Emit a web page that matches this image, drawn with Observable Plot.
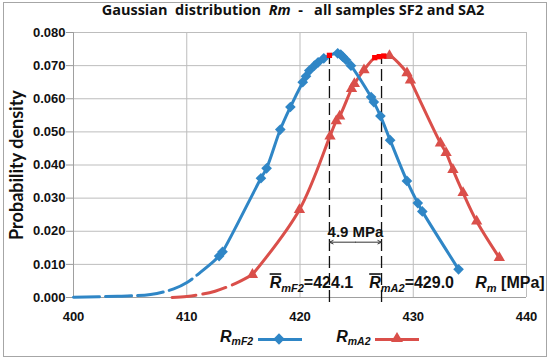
<!DOCTYPE html>
<html><head><meta charset="utf-8">
<script src="https://cdn.jsdelivr.net/npm/d3@7"></script>
<script src="https://cdn.jsdelivr.net/npm/@observablehq/plot@0.6"></script>
<style>
body{margin:0;background:#fff;}
#wrap{position:relative;width:550px;height:362px;overflow:hidden;background:#fff;font-family:"Liberation Sans",Arial,sans-serif;color:#111;}
#frame{position:absolute;left:3px;top:2px;width:542px;height:353px;border:1px solid #a6a6a6;pointer-events:none;}
#title{height:24px;line-height:38px;text-align:center;font:bold 14.5px "Open Sans",sans-serif;padding-left:36px;white-space:pre;}
#legend{height:18px;display:flex;align-items:center;padding-left:220px;line-height:18px;margin-top:0;}
.lt{font-weight:bold;font-style:italic;font-size:16px;}
.lt sub{font-size:10.5px;vertical-align:-3px;}
.ln{display:inline-block;position:relative;width:44px;height:3px;margin-left:5px;}
.dia{position:absolute;left:17px;top:-3px;width:8px;height:8px;transform:rotate(45deg);}
.tri{position:absolute;left:16px;top:-6px;width:0;height:0;border-left:6px solid transparent;border-right:6px solid transparent;border-bottom:10px solid;}
</style></head>
<body>
<div id="wrap">
  <div id="title">Gaussian  distribution  <i>Rm</i>  -   all samples SF2 and SA2</div>
  <div id="chart"></div>
  <div id="legend">
    <span class="lt">R<sub>mF2</sub></span><span class="ln" style="background:#2f86c6"><span class="dia" style="background:#2f86c6"></span></span>
    <span class="lt" style="margin-left:34px">R<sub>mA2</sub></span><span class="ln" style="background:#da4f4a"><span class="tri" style="border-bottom-color:#da4f4a"></span></span>
  </div>
  <div id="frame"></div>
</div>
<script>
// ---- data ----
const blueX = [412.86, 413.16, 416.55, 417.05, 418.26, 419.15, 420.24, 420.53, 420.82, 421.27, 421.6, 422.1, 423.33, 423.6, 423.77, 424.07, 424.5, 426.28, 426.52, 427.1, 427.96, 429.44, 430.4, 430.8, 434.0];
const blueY = [0.0125, 0.0138, 0.0360, 0.0390, 0.0507, 0.0575, 0.0650, 0.0668, 0.0685, 0.0700, 0.0710, 0.0722, 0.0737, 0.0733, 0.0727, 0.0717, 0.0700, 0.0605, 0.0590, 0.0548, 0.0475, 0.0352, 0.0285, 0.0260, 0.0085];
const blueTailX = [400, 403.9, 406.8, 408.85, 410.06, 411.2, 412.4, 412.86];
const blueTailY = [0.0001, 0.0004, 0.0009, 0.0026, 0.0046, 0.0076, 0.0110, 0.0125];
const bluePeakX = [422.6];
const bluePeakY = [0.0731];

const redX = [415.8, 419.95, 422.65, 423.2, 423.5, 424.55, 424.8, 425.65, 427.9, 429.45, 429.75, 432.4, 432.9, 433.5, 434.4, 435.6, 437.6];
const redY = [0.0069, 0.0265, 0.0487, 0.0533, 0.0547, 0.0630, 0.0645, 0.0687, 0.0730, 0.0678, 0.0656, 0.0466, 0.0437, 0.0386, 0.0316, 0.0230, 0.0120];
const redTailX = [408.7, 410, 411.2, 412.5, 413.5, 414.6, 415.8];
const redTailY = [0.0000, 0.0003, 0.0009, 0.0019, 0.0031, 0.0047, 0.0069];
const redPeakX = [426.6, 427.0, 427.4];
const redPeakY = [0.0724, 0.0727, 0.0729];

const meanX = [422.6, 427.2];
const meanTop = [0.0731, 0.0727];
const meanLabels = ["RmF2=424.1", "RmA2=429.0"];
const meanLabelX = [424.7, 433.6];
const diffLabel = "4.9 MPa";
const xTicks = [400, 410, 420, 430, 440];
const yTicks = [0, 0.01, 0.02, 0.03, 0.04, 0.05, 0.06, 0.07, 0.08];
const axisUnit = "Rm [MPa]";

const BLUE = "#2f86c6", RED = "#da4f4a", GRID = "#bdbdbd";
const zip = (xs, ys) => xs.map((x, i) => ({x, y: ys[i]}));
const blue = zip(blueX, blueY), blueTail = zip(blueTailX, blueTailY);
const red = zip(redX, redY), redTail = zip(redTailX, redTailY);
const bluePeak = zip(bluePeakX, bluePeakY), redPeak = zip(redPeakX, redPeakY);
const redLine = [...red, ...redPeak].sort((a, b) => a.x - b.x);
const blueLine = [...blue, ...bluePeak].sort((a, b) => a.x - b.x);
const means = meanX.map((x, i) => ({x, top: meanTop[i]}));
const mid = (meanX[0] + meanX[1]) / 2;
const arrowY = 0.0167;

const plot = Plot.plot({
  width: 550, height: 306,
  marginLeft: 73, marginRight: 24, marginTop: 8, marginBottom: 33,
  x: {domain: [400, 440]},
  y: {domain: [0, 0.08]},
  style: {fontFamily: "'Liberation Sans', Arial, sans-serif", fontSize: "13px", fontWeight: "bold", color: "#111", background: "white", overflow: "visible"},
  marks: [
    Plot.ruleX(xTicks.slice(1), {stroke: GRID, strokeWidth: 1}),
    Plot.ruleY(yTicks.slice(1), {stroke: GRID, strokeWidth: 1}),
    Plot.ruleX([400], {stroke: "#a0a0a0"}),
    Plot.ruleY([0], {stroke: "#a0a0a0"}),
    Plot.axisY({ticks: yTicks, tickFormat: d3.format(".3f"), tickSize: 7, tickPadding: 1, stroke: "#999", label: "Probability density", labelAnchor: "center", labelArrow: "none", labelOffset: 63}),
    Plot.axisX({ticks: xTicks, tickSize: 0, tickPadding: 14, label: null}),
    Plot.ruleX(means, {x: "x", y1: -0.0015, y2: "top", stroke: "#111", strokeWidth: 1.3, strokeDasharray: "12,5"}),
    Plot.arrow([{a: mid, b: meanX[0]}, {a: mid, b: meanX[1]}], {x1: "a", x2: "b", y1: arrowY, y2: arrowY, stroke: "#333", strokeWidth: 1, headLength: 6, headAngle: 50}),
    Plot.text([diffLabel], {x: mid, y: 0.0197, text: d => d, fontSize: 15, fontWeight: "bold"}),
    Plot.text(meanLabels, {x: (d, i) => meanLabelX[i], y: 0.0028, text: d => d, textAnchor: "end", fontSize: 16, fontWeight: "bold", lineAnchor: "bottom"}),
    Plot.text([axisUnit], {x: 441.6, y: 0.0028, text: d => d, textAnchor: "end", fontSize: 16, fontWeight: "bold", lineAnchor: "bottom"}),
    Plot.line(redTail, {x: "x", y: "y", stroke: RED, strokeWidth: 3, strokeDasharray: "24,7", curve: "catmull-rom"}),
    Plot.line(redLine, {x: "x", y: "y", stroke: RED, strokeWidth: 3, curve: "catmull-rom"}),
    Plot.dot(red, {x: "x", y: "y", symbol: "triangle", r: 4.2, fill: RED}),
    Plot.line(blueTail, {x: "x", y: "y", stroke: BLUE, strokeWidth: 3, strokeDasharray: "26,6", curve: "catmull-rom"}),
    Plot.line(blueLine, {x: "x", y: "y", stroke: BLUE, strokeWidth: 3, curve: "catmull-rom"}),
    Plot.dot(blue, {x: "x", y: "y", symbol: "diamond2", r: 4.8, fill: BLUE}),
    Plot.dot([...bluePeak, ...redPeak], {x: "x", y: "y", symbol: "square", r: 3, fill: "#ff0000"})
  ]
});
document.getElementById("chart").appendChild(plot);

// rich text (italic, overline, subscripts) for the annotation labels
const rich = {
  "RmF2=424.1": [["R", "ov"], ["mF2", "sub"], ["=424.1", ""]],
  "RmA2=429.0": [["R", "ov"], ["mA2", "sub"], ["=429.0", ""]],
  "Rm [MPa]": [["R", "it"], ["m", "sub"], [" [MPa]", ""]]
};
d3.select(plot).selectAll("text").each(function () {
  const t = this.textContent;
  if (t === "Probability density") {
    d3.select(this).style("font-family", "Lato, sans-serif").style("font-size", "18px").style("font-weight", "bold");
    return;
  }
  const segs = rich[t];
  if (!segs) return;
  const el = d3.select(this);
  el.text(null);
  let shifted = false;
  for (const [s, k] of segs) {
    const ts = el.append("tspan").text(s);
    if (k === "ov" || k === "it") ts.style("font-style", "italic");
    if (k === "ov") ts.style("text-decoration", "overline");
    if (k === "sub") { ts.style("font-style", "italic").style("font-size", "11px").attr("dy", 4); shifted = true; }
    else if (shifted) { ts.attr("dy", -4); shifted = false; }
  }
});
</script>
</body></html>
